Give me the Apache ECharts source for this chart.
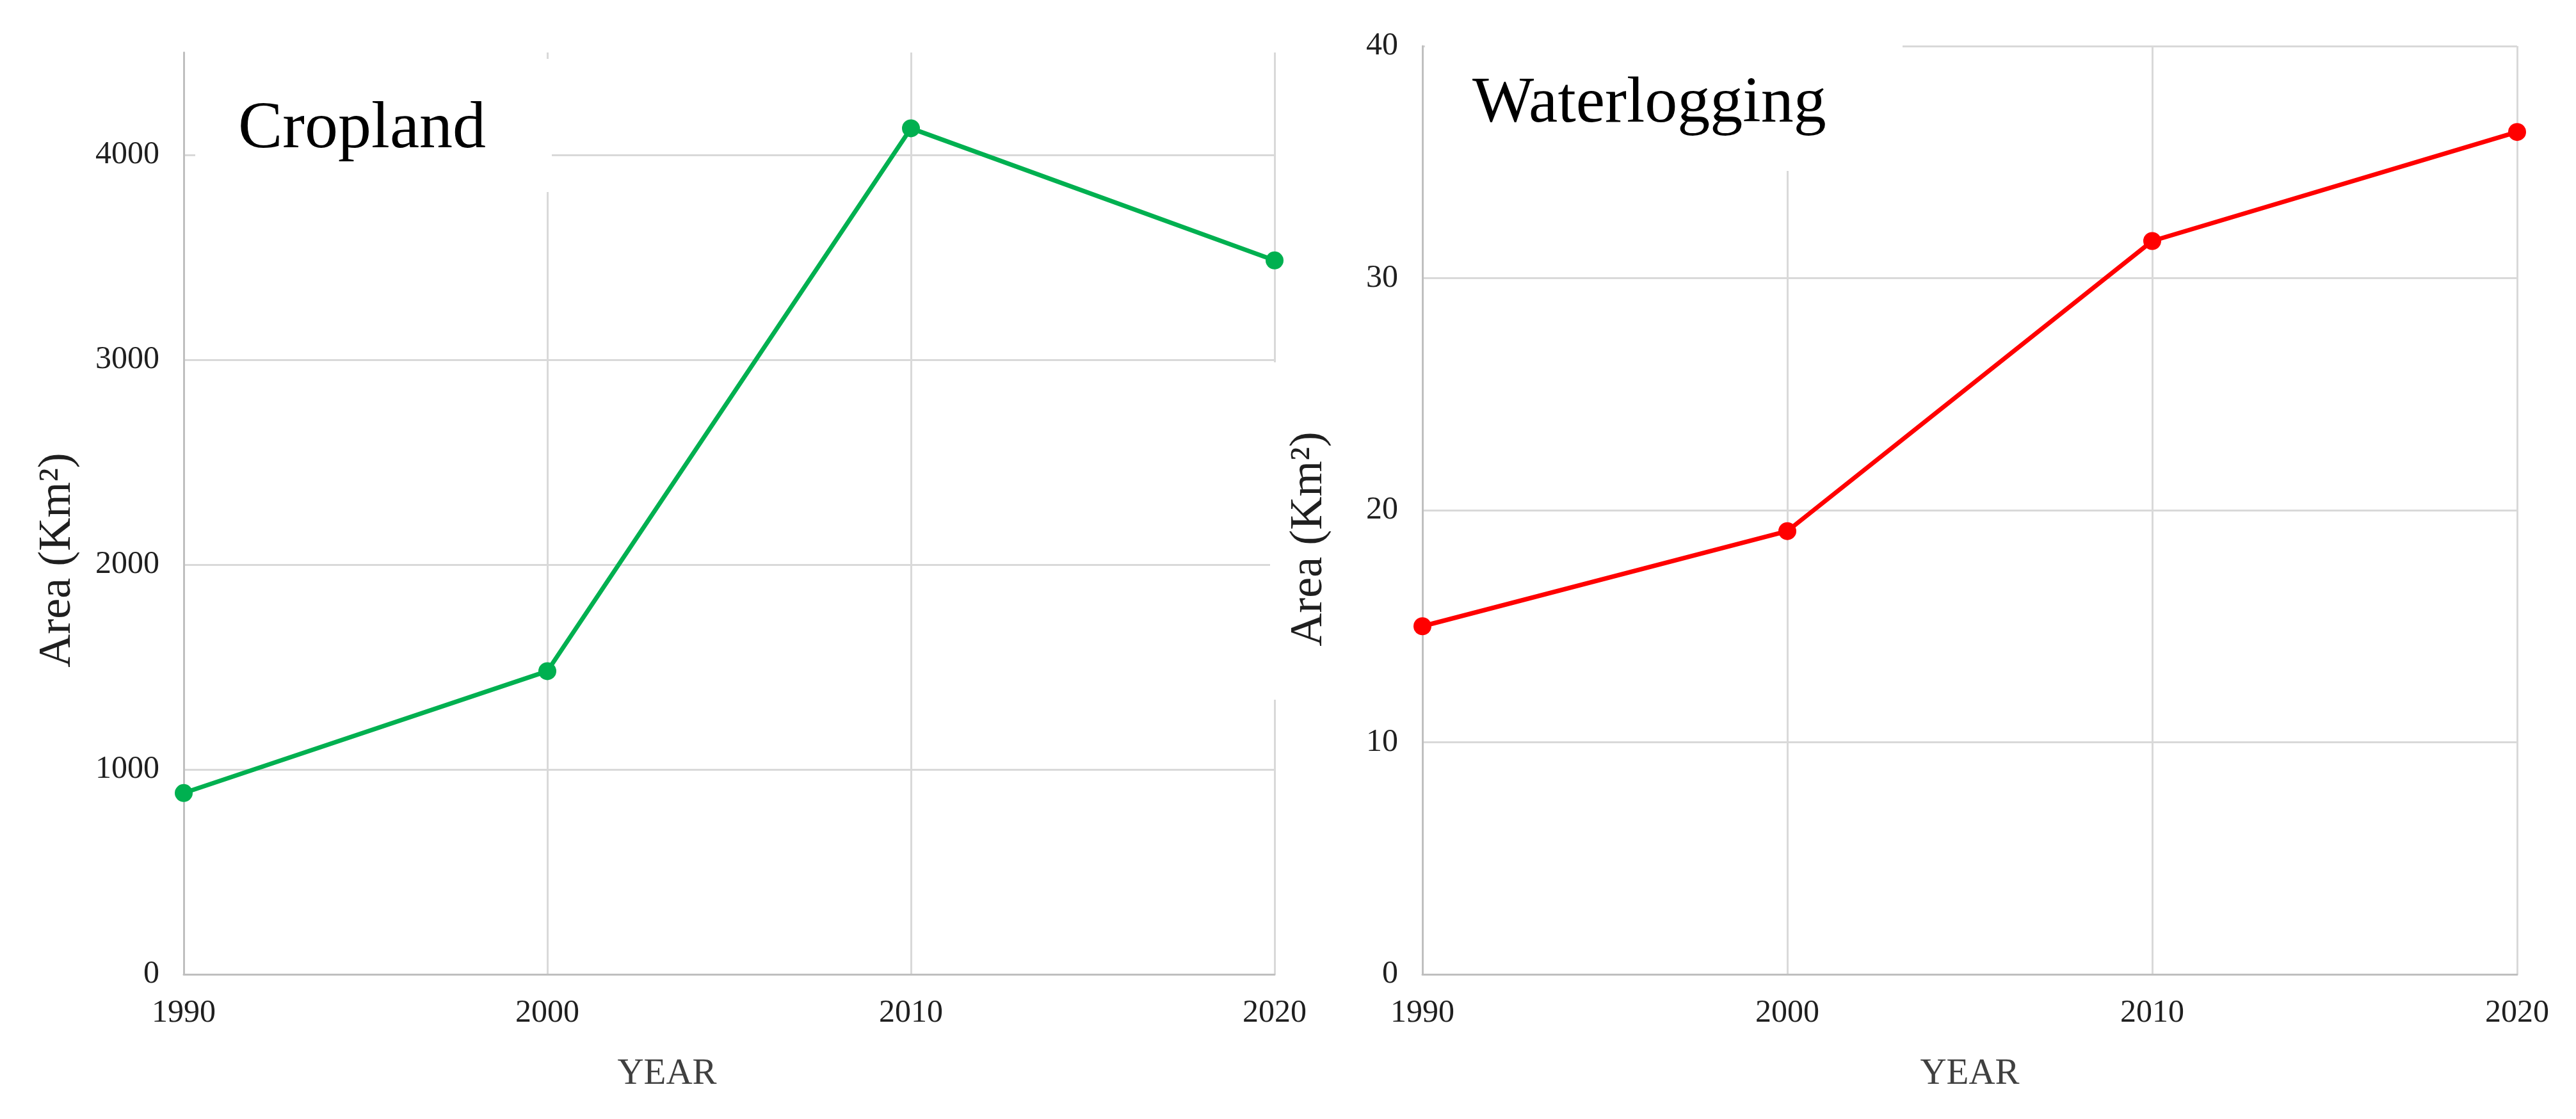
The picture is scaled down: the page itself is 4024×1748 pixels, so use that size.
<!DOCTYPE html>
<html>
<head>
<meta charset="utf-8">
<script src="https://cdn.jsdelivr.net/npm/echarts@6/dist/echarts.min.js"></script>
<style>
html,body{margin:0;padding:0;background:#fff;}
#chart{width:4024px;height:1748px;}
</style>
</head>
<body>
<div id="chart"></div>
<script>
// ---- data ----
const years = ['1990', '2000', '2010', '2020'];
const croplandArea = [885, 1480, 4130, 3485];
const waterloggingArea = [15.0, 19.1, 31.6, 36.3];
const croplandAxis = { min: 0, max: 4500, interval: 1000 };
const waterAxis = { min: 0, max: 40, interval: 10 };
const titles = ['Cropland', 'Waterlogging'];
const yName = 'Area (Km\u00B2)';
const xName = 'YEAR';

const FONT = '"Liberation Serif", "Times New Roman", serif';
const gridColor = '#d9d9d9';
const axisColor = '#bfbfbf';
const labelColor = '#1f1f1f';

const chart = echarts.init(document.getElementById('chart'), null, { renderer: 'canvas' });

function xAxisCfg(idx, padRight) {
  return {
    type: 'category', gridIndex: idx, data: years, boundaryGap: false,
    axisLine: { show: true, lineStyle: { color: axisColor, width: 3 } },
    axisTick: { show: false },
    axisLabel: { margin: 36, fontFamily: FONT, fontSize: 50, color: labelColor },
    splitLine: { show: true, lineStyle: { color: gridColor, width: 3 } },
    name: xName, nameLocation: 'middle', nameGap: 128,
    nameTextStyle: { fontFamily: FONT, fontSize: 57, color: '#404040', padding: [0, padRight, 0, 0] }
  };
}
function yAxisCfg(idx, ax, gap, padRight) {
  return {
    type: 'value', gridIndex: idx, min: ax.min, max: ax.max, interval: ax.interval,
    axisLine: { show: true, lineStyle: { color: axisColor, width: 3 } },
    axisTick: { show: false },
    axisLabel: {
      margin: 38, fontFamily: FONT, fontSize: 50, color: labelColor,
      showMaxLabel: ax.max % ax.interval === 0,
      formatter: function (v) { return String(v); }
    },
    splitLine: { show: true, showMaxLine: ax.max % ax.interval === 0, lineStyle: { color: gridColor, width: 3 } },
    name: yName, nameLocation: 'middle', nameGap: gap, nameRotate: 90,
    nameTextStyle: { fontFamily: FONT, fontSize: 72, color: labelColor, padding: [0, padRight, 0, 0] }
  };
}

const option = {
  backgroundColor: '#ffffff',
  animation: false,
  title: [
    { text: titles[0], left: 367, top: 146, textStyle: { fontFamily: FONT, fontSize: 104, fontWeight: 'normal', color: '#000' } },
    { text: titles[1], left: 2295, top: 107, textStyle: { fontFamily: FONT, fontSize: 102, fontWeight: 'normal', color: '#000' } }
  ],
  grid: [
    { left: 287, top: 82, width: 1704, height: 1440 },
    { left: 2222, top: 72, width: 1710, height: 1450 }
  ],
  xAxis: [xAxisCfg(0, 194), xAxisCfg(1, 0)],
  yAxis: [yAxisCfg(0, croplandAxis, 161, 146), yAxisCfg(1, waterAxis, 141, 90)],
  graphic: [
    { type: 'rect', z: 1, shape: { x: 305, y: 92, width: 557, height: 208 }, style: { fill: '#fff' } },
    { type: 'rect', z: 1, shape: { x: 2226, y: 55, width: 746, height: 212 }, style: { fill: '#fff' } },
    { type: 'rect', z: 1, shape: { x: 1984, y: 566, width: 16, height: 527 }, style: { fill: '#fff' } }
  ],
  series: [
    {
      type: 'line', xAxisIndex: 0, yAxisIndex: 0, data: croplandArea, z: 5,
      symbol: 'circle', symbolSize: 28,
      lineStyle: { color: '#00b050', width: 7 }, itemStyle: { color: '#00b050' }
    },
    {
      type: 'line', xAxisIndex: 1, yAxisIndex: 1, data: waterloggingArea, z: 5,
      symbol: 'circle', symbolSize: 28,
      lineStyle: { color: '#ff0000', width: 7 }, itemStyle: { color: '#ff0000' }
    }
  ]
};
chart.setOption(option);
</script>
</body>
</html>
